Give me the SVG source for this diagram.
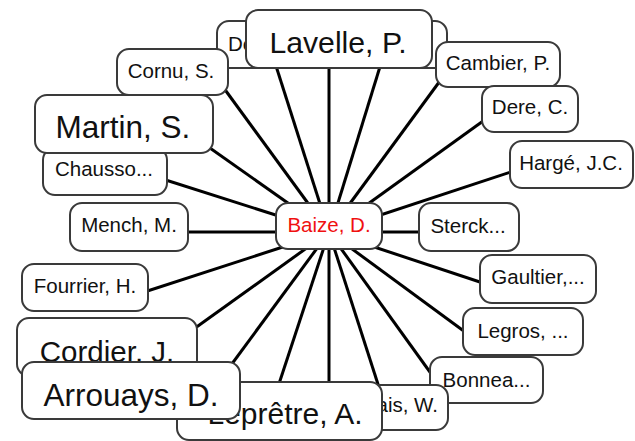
<svg xmlns="http://www.w3.org/2000/svg" width="635" height="441" viewBox="0 0 635 441">
<style>
.box{fill:#fff;stroke:#3a3a3a;stroke-width:2}
.t{font-family:"Liberation Sans",Arial,sans-serif;fill:#111;font-size:20.5px;text-anchor:middle}
.edge line{stroke:#000;stroke-width:3}
</style>
<rect width="635" height="441" fill="#fff"/>
<g id="connectors" class="edge">
<line x1="329" y1="232" x2="215" y2="76"/>
<line x1="329" y1="232" x2="269" y2="44"/>
<line x1="329" y1="232" x2="329" y2="40"/>
<line x1="329" y1="232" x2="387" y2="44"/>
<line x1="329" y1="232" x2="448" y2="70"/>
<line x1="329" y1="232" x2="497" y2="111"/>
<line x1="329" y1="232" x2="526" y2="167"/>
<line x1="329" y1="232" x2="430" y2="232"/>
<line x1="329" y1="232" x2="495" y2="287"/>
<line x1="329" y1="232" x2="476" y2="340"/>
<line x1="329" y1="232" x2="440" y2="386"/>
<line x1="329" y1="232" x2="385" y2="406"/>
<line x1="329" y1="232" x2="329" y2="420"/>
<line x1="329" y1="232" x2="273" y2="402"/>
<line x1="329" y1="232" x2="223" y2="376"/>
<line x1="329" y1="232" x2="184" y2="336"/>
<line x1="329" y1="232" x2="132" y2="296"/>
<line x1="329" y1="232" x2="175" y2="232"/>
<line x1="329" y1="232" x2="150" y2="175"/>
<line x1="329" y1="232" x2="200" y2="141"/>
</g>
<g id="n-de"><rect class="box" x="217" y="21" width="102" height="47" rx="12"/><text class="t" x="228" y="51" style="text-anchor:start">De...</text></g>
<g id="n-hidden-top"><rect class="box" x="333" y="21" width="114" height="47" rx="12"/></g>
<g id="n-lavelle"><rect class="box" x="246" y="10" width="186" height="58" rx="12"/><text class="t" x="338" y="53" style="font-size:30.2px">Lavelle, P.</text></g>
<g id="n-cambier"><rect class="box" x="436" y="42" width="124" height="45" rx="12"/><text class="t" x="498" y="70">Cambier, P.</text></g>
<g id="n-dere"><rect class="box" x="482" y="86" width="96" height="46" rx="12"/><text class="t" x="530" y="113.5">Dere, C.</text></g>
<g id="n-harge"><rect class="box" x="510" y="141" width="123" height="47" rx="12"/><text class="t" x="571" y="170">Hargé, J.C.</text></g>
<g id="n-chausso"><rect class="box" x="43" y="148" width="124" height="47" rx="12"/><text class="t" x="104" y="175.5">Chausso...</text></g>
<g id="n-martin"><rect class="box" x="35" y="95" width="178" height="58" rx="12"/><text class="t" x="123" y="137.5" style="font-size:31.5px">Martin, S.</text></g>
<g id="n-cornu"><rect class="box" x="117" y="49" width="111" height="46" rx="12"/><text class="t" x="171" y="77.5">Cornu, S.</text></g>
<g id="n-mench"><rect class="box" x="70" y="203" width="118" height="48" rx="12"/><text class="t" x="129" y="232">Mench, M.</text></g>
<g id="n-baize"><rect class="box" x="276" y="203" width="106" height="46" rx="12"/><text class="t" x="329" y="232" style="fill:#f01010">Baize, D.</text></g>
<g id="n-sterck"><rect class="box" x="419" y="203" width="100" height="48" rx="12"/><text class="t" x="468" y="232.5">Sterck...</text></g>
<g id="n-fourrier"><rect class="box" x="22" y="264" width="126" height="47" rx="12"/><text class="t" x="85" y="293">Fourrier, H.</text></g>
<g id="n-gaultier"><rect class="box" x="480" y="255" width="116" height="48" rx="12"/><text class="t" x="538" y="284">Gaultier,...</text></g>
<g id="n-legros"><rect class="box" x="463" y="308" width="120" height="47" rx="12"/><text class="t" x="523" y="338">Legros, ...</text></g>
<g id="n-bonnea"><rect class="box" x="430" y="357" width="113" height="46" rx="12"/><text class="t" x="486.5" y="386.5">Bonnea...</text></g>
<g id="n-ais"><rect class="box" x="324" y="385" width="124" height="45" rx="12"/><text class="t" x="438" y="412" style="text-anchor:end">ais, W.</text></g>
<g id="n-lepretre"><rect class="box" x="177" y="382" width="205" height="58" rx="12"/><text class="t" x="285" y="424" style="font-size:30px">Leprêtre, A.</text></g>
<g id="n-cordier"><rect class="box" x="17" y="318" width="180" height="58" rx="12"/><text class="t" x="107" y="362" style="font-size:29.5px">Cordier, J.</text></g>
<g id="n-arrouays"><rect class="box" x="22" y="362" width="218" height="57" rx="12"/><text class="t" x="131" y="406" style="font-size:31.5px">Arrouays, D.</text></g>
</svg>
